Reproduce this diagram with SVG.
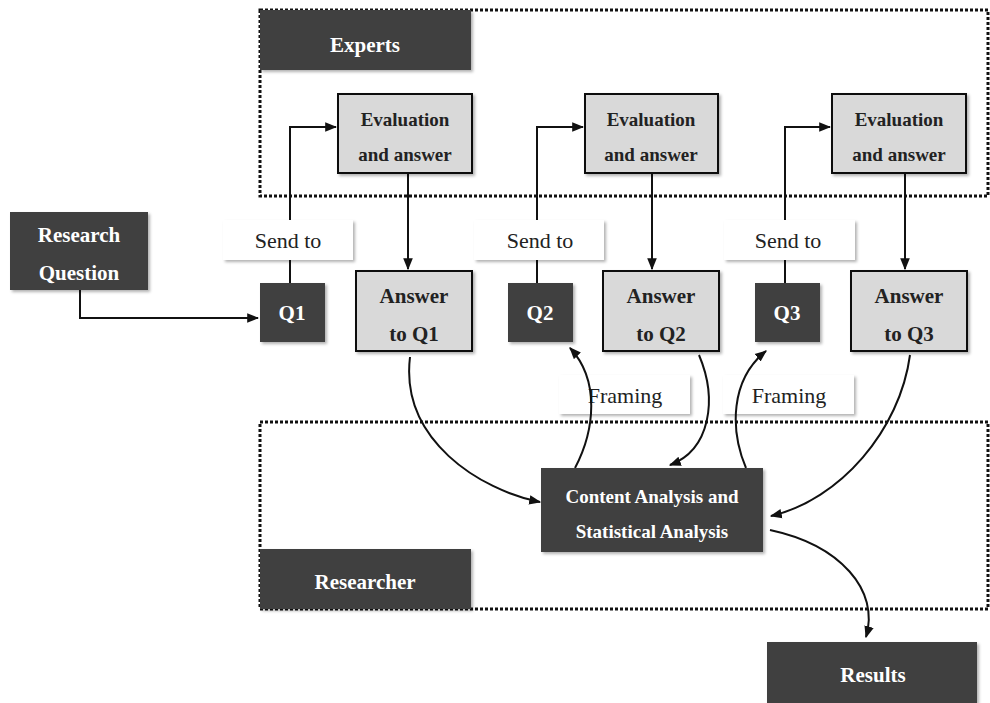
<svg xmlns="http://www.w3.org/2000/svg" width="990" height="703" viewBox="0 0 990 703">
<defs>
<filter id="sh" x="-10%" y="-10%" width="130%" height="130%">
<feDropShadow dx="2" dy="2" stdDeviation="1.5" flood-color="#000" flood-opacity="0.3"/>
</filter>
<marker id="ah2" viewBox="0 0 10 10" refX="9" refY="5" markerWidth="12" markerHeight="12" markerUnits="userSpaceOnUse" orient="auto">
<path d="M0,1 L10,5 L0,9 z" fill="#111"/>
</marker>
</defs>
<style>
.dark{fill:#404040;filter:url(#sh)}
.light{fill:#d9d9d9;stroke:#111;stroke-width:2;filter:url(#sh)}
.lbl{fill:#fff;filter:url(#sh)}
.zone{fill:none;stroke:#111;stroke-width:3;stroke-dasharray:3 2}
.wt{font-family:"Liberation Serif","Times New Roman",serif;font-weight:bold;fill:#fff;text-anchor:middle}
.bt{font-family:"Liberation Serif","Times New Roman",serif;font-weight:bold;fill:#222;text-anchor:middle}
.nt{font-family:"Liberation Serif","Times New Roman",serif;fill:#222;text-anchor:middle;font-size:22px}
.ln{fill:none;stroke:#111;stroke-width:2}
</style>
<rect width="990" height="703" fill="#fff"/>

<g id="experts-zone">
<rect class="zone" x="260" y="10" width="728" height="186"/>
<rect class="dark" x="260" y="10" width="211" height="60"/>
<text class="wt" x="365" y="52" font-size="21">Experts</text>
</g>
<g id="researcher-zone">
<rect class="zone" x="260" y="422" width="728" height="187"/>
<rect class="dark" x="260" y="549" width="211" height="60"/>
<text class="wt" x="365" y="589" font-size="21">Researcher</text>
</g>

<g id="connectors">
<path class="ln" d="M80,290 V318 H258" marker-end="url(#ah2)"/>
<path class="ln" d="M290,283 V127 H336" marker-end="url(#ah2)"/>
<path class="ln" d="M537,283 V127 H583" marker-end="url(#ah2)"/>
<path class="ln" d="M785,283 V127 H830" marker-end="url(#ah2)"/>
<path class="ln" d="M408,173 V269" marker-end="url(#ah2)"/>
<path class="ln" d="M652,173 V269" marker-end="url(#ah2)"/>
<path class="ln" d="M905,173 V269" marker-end="url(#ah2)"/>
<path class="ln" d="M410,357 C400,440 480,490 540,502" marker-end="url(#ah2)"/>
<path class="ln" d="M910,355 C900,430 840,500 771,516" marker-end="url(#ah2)"/>
<path class="ln" d="M770,530 C840,545 880,590 866,637" marker-end="url(#ah2)"/>
</g>

<g id="send1"><rect class="lbl" x="223" y="220" width="130" height="40"/><text class="nt" x="288" y="248">Send to</text></g>
<g id="send2"><rect class="lbl" x="474" y="220" width="130" height="40"/><text class="nt" x="540" y="248">Send to</text></g>
<g id="send3"><rect class="lbl" x="724" y="220" width="131" height="40"/><text class="nt" x="788" y="248">Send to</text></g>
<g id="framing1"><rect class="lbl" x="559" y="375" width="131" height="39"/><text class="nt" x="625" y="403">Framing</text></g>
<g id="framing2"><rect class="lbl" x="723" y="375" width="131" height="39"/><text class="nt" x="789" y="403">Framing</text></g>

<g id="connectors-over">
<path class="ln" d="M575,468 C595,430 600,380 570,348" marker-end="url(#ah2)"/>
<path class="ln" d="M746,468 C730,430 730,380 766,351" marker-end="url(#ah2)"/>
<path class="ln" d="M699,355 C718,400 710,450 670,465" marker-end="url(#ah2)"/>
</g>

<g id="research-question"><rect class="dark" x="10" y="212" width="138" height="78"/>
<text class="wt" x="79" y="242" font-size="21">Research</text><text class="wt" x="79" y="280" font-size="21">Question</text></g>

<g id="eval1"><rect class="light" x="338" y="94" width="134" height="79"/><text class="bt" x="405" y="126" font-size="19">Evaluation</text><text class="bt" x="405" y="161" font-size="19">and answer</text></g>
<g id="eval2"><rect class="light" x="585" y="94" width="133" height="79"/><text class="bt" x="651" y="126" font-size="19">Evaluation</text><text class="bt" x="651" y="161" font-size="19">and answer</text></g>
<g id="eval3"><rect class="light" x="832" y="94" width="134" height="79"/><text class="bt" x="899" y="126" font-size="19">Evaluation</text><text class="bt" x="899" y="161" font-size="19">and answer</text></g>

<g id="q1"><rect class="dark" x="260" y="283" width="65" height="59"/><text class="wt" x="292" y="320" font-size="21">Q1</text></g>
<g id="q2"><rect class="dark" x="508" y="283" width="65" height="59"/><text class="wt" x="540" y="320" font-size="21">Q2</text></g>
<g id="q3"><rect class="dark" x="755" y="283" width="65" height="59"/><text class="wt" x="787" y="320" font-size="21">Q3</text></g>

<g id="ans1"><rect class="light" x="356" y="271" width="116" height="80"/><text class="bt" x="414" y="303" font-size="21">Answer</text><text class="bt" x="414" y="341" font-size="21">to Q1</text></g>
<g id="ans2"><rect class="light" x="603" y="271" width="116" height="80"/><text class="bt" x="661" y="303" font-size="21">Answer</text><text class="bt" x="661" y="341" font-size="21">to Q2</text></g>
<g id="ans3"><rect class="light" x="851" y="271" width="116" height="80"/><text class="bt" x="909" y="303" font-size="21">Answer</text><text class="bt" x="909" y="341" font-size="21">to Q3</text></g>

<g id="analysis"><rect class="dark" x="541" y="468" width="222" height="84"/>
<text class="wt" x="652" y="503" font-size="19">Content Analysis and</text><text class="wt" x="652" y="538" font-size="19">Statistical Analysis</text></g>

<g id="results"><rect class="dark" x="767" y="642" width="210" height="61"/><text class="wt" x="873" y="682" font-size="21">Results</text></g>
</svg>
